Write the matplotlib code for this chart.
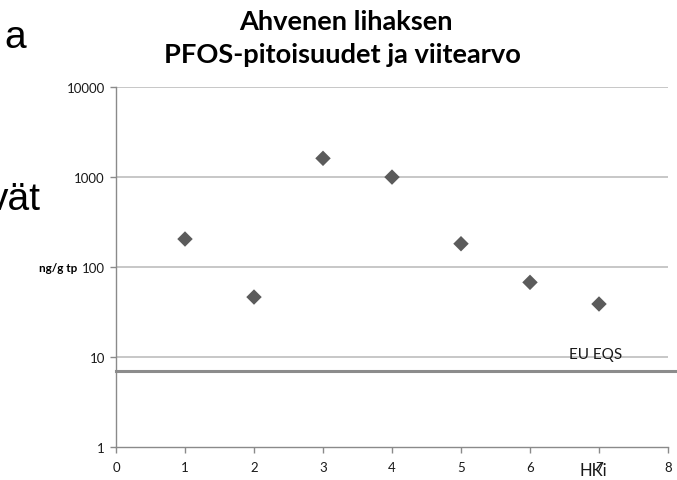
import matplotlib
matplotlib.use("Agg")
import matplotlib.pyplot as plt
from matplotlib.ticker import FixedLocator, NullLocator

# data
sites = [1, 2, 3, 4, 5, 6, 7]
pfos = [203, 46, 1600, 990, 180, 67, 38.5]
eqs_value = 7.0
y_ticks = [1, 10, 100, 1000, 10000]
y_tick_labels = ["1", "10", "100", "1000", "10000"]
x_ticks = [0, 1, 2, 3, 4, 5, 6, 7, 8]

plt.rcParams['font.family'] = ['Lato', 'DejaVu Sans']

fig = plt.figure(figsize=(6.77, 4.81), dpi=100)
ax = fig.add_axes([116/677, 1-447.7/481, (668-116)/677, (447.7-87.7)/481])

ax.set_yscale('log')
ax.set_ylim(1, 10000)
ax.set_xlim(0, 8)
ax.yaxis.set_major_locator(FixedLocator(y_ticks))
ax.yaxis.set_minor_locator(NullLocator())
ax.set_yticklabels(y_tick_labels)
ax.set_xticks(x_ticks)

for yv in y_ticks[1:]:
    ax.axhline(yv, color='#bdbdbd', lw=1.2, zorder=1)

ax.axhline(eqs_value, xmin=0, xmax=1.013, color='#8c8c8c', lw=2.2, clip_on=False, zorder=2)

ax.scatter(sites, pfos, marker='D', s=62, color='#5b5b5b', edgecolors='none', zorder=3)

for s in ['top', 'right']:
    ax.spines[s].set_visible(False)
for s in ['left', 'bottom']:
    ax.spines[s].set_color('#8a8a8a')
    ax.spines[s].set_linewidth(1.0)
ax.tick_params(axis='both', which='major', color='#8a8a8a', length=4, width=1,
               labelsize=9.5, labelcolor='#1a1a1a')
ax.tick_params(axis='x', pad=6)
ax.tick_params(axis='y', pad=4)

fig.text(346/677, 1-30/481, "Ahvenen lihaksen", ha='center', va='baseline',
         fontsize=19.6, fontweight='bold')
fig.text(342/677, 1-63/481, "PFOS-pitoisuudet ja viitearvo", ha='center', va='baseline',
         fontsize=19.6, fontweight='bold')
fig.text(58/677, 1-269/481, "ng/g tp", ha='center', va='center', fontsize=8.5, fontweight='bold')
ax.text(6.95, 8.9, "EU EQS", ha='center', va='bottom', fontsize=11, color='#1a1a1a')
fig.text(593/677, 1-471/481, "HKi", ha='center', va='center', fontsize=12, color='#1a1a1a')

# stray slide text partially visible at left edge
fig.text(4/677, 1-38/481, "a", ha='left', va='center', fontsize=28,
         family=['Liberation Sans', 'DejaVu Sans'])
fig.text(-11/677, 1-200/481, "vät", ha='left', va='center', fontsize=28,
         family=['Liberation Sans', 'DejaVu Sans'])

fig.savefig("out.png", dpi=100)
